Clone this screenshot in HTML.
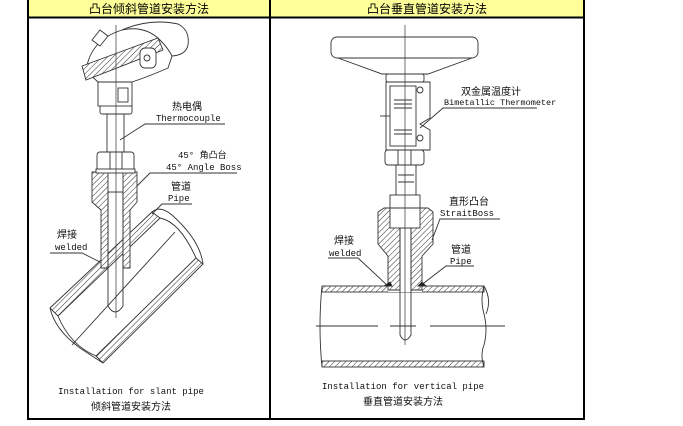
<!DOCTYPE html>
<html><head><meta charset="utf-8"><style>
html,body{margin:0;padding:0;background:#fff;width:683px;height:426px;overflow:hidden}
svg{display:block}
text{font-family:"Liberation Mono","Noto Sans CJK SC",monospace;font-size:9px;fill:#111}
.c{font-family:"Liberation Sans","Noto Sans CJK SC",sans-serif;font-size:10px}
.h{font-family:"Liberation Sans","Noto Sans CJK SC",sans-serif;font-size:12px;fill:#000}
</style></head><body>
<svg width="683" height="426" viewBox="0 0 683 426">
<defs>
<pattern id="hat" width="4" height="4" patternUnits="userSpaceOnUse" patternTransform="rotate(45)">
<rect width="4" height="4" fill="#fff"/><line x1="0" y1="0" x2="0" y2="4" stroke="#333" stroke-width="1"/>
</pattern>
</defs>
<!-- table -->
<rect x="28" y="0" width="556" height="17" fill="#ffff99"/>
<rect x="28" y="-1" width="556" height="420" fill="none" stroke="#000" stroke-width="2"/>
<line x1="28" y1="17.5" x2="584" y2="17.5" stroke="#000" stroke-width="2"/>
<line x1="270" y1="0" x2="270" y2="420" stroke="#000" stroke-width="2"/>
<text class="h" x="149" y="13" text-anchor="middle">凸台倾斜管道安装方法</text>
<text class="h" x="427" y="13" text-anchor="middle">凸台垂直管道安装方法</text>

<g stroke="#333" fill="none" stroke-width="0.9">
<!-- LEFT -->
<path d="M50,308 L152,212 L160,218 L58,316 Z" fill="url(#hat)"/>
<path d="M96,356 L196,258 L203,264 L103,363 Z" fill="url(#hat)"/>
<path d="M152,212 Q160,205 172,215 Q200,240 203,264" />
<path d="M160,218 Q180,222 196,258"/>
<path d="M50,308 Q55,330 80,348 Q95,358 103,363"/>
<path d="M58,316 Q70,345 96,356"/>
<line x1="72" y1="345" x2="175" y2="232"/>
<path d="M92,172 L137,172 L137,202 L130,210 L130,268 L123,268 L123,192 L108,192 L108,268 L101,268 L101,210 L92,202 Z" fill="url(#hat)"/>
<rect x="108" y="172" width="15" height="20" fill="#fff"/>
<path d="M108,192 L108,306 Q115,318 123,306 L123,192"/>
<rect x="97" y="152" width="37" height="19" rx="3" fill="#fff"/>
<line x1="110" y1="152" x2="110" y2="171"/><line x1="122" y1="152" x2="122" y2="171"/>
<rect x="96" y="169" width="39" height="4" fill="#fff"/>
<line x1="107" y1="113" x2="107" y2="152"/><line x1="124" y1="113" x2="124" y2="152"/>
<rect x="100" y="105" width="32" height="9" rx="2" fill="#fff"/>
<rect x="98" y="82" width="34" height="24" fill="#fff"/>
<rect x="118" y="88" width="10" height="14"/>
<path d="M86,71 Q90,40 122,30 Q145,25 160,40 Q168,48 172,56 L168,68 Q150,76 132,82 L98,82 Z" fill="#fff"/>
<path d="M82,66 L158,38 L163,50 L86,80 Z" fill="url(#hat)"/>
<path d="M122,30 Q150,18 178,24 Q190,30 188,45 Q186,55 172,56" />
<rect x="140" y="48" width="16" height="20" rx="5" fill="#fff"/>
<circle cx="147" cy="58" r="3"/>
<path d="M92,40 L100,30 L108,36 L100,46 Z" fill="#fff"/>
<line x1="116" y1="25" x2="116" y2="318" stroke-width="0.7"/>
<path d="M225,124 L145,124 L120,140"/>
<path d="M237,173 L150,173 L137,186"/>
<path d="M192,204 L162,204 L152,214"/>
<path d="M50,253 L82,253 L100,262"/>

<!-- RIGHT -->
<rect x="322" y="286" width="162" height="6" fill="url(#hat)"/>
<rect x="322" y="361" width="162" height="6" fill="url(#hat)"/>
<rect x="388" y="284" width="34" height="8" fill="#fff" stroke="none"/>
<path d="M322,286 Q318,326 322,367"/>
<path d="M484,286 Q480,300 484,314 Q488,330 484,345 Q480,355 484,367"/>
<path d="M484,286 Q492,300 486,314"/>
<line x1="316" y1="326" x2="378" y2="326"/><line x1="390" y1="326" x2="416" y2="326"/><line x1="430" y1="326" x2="505" y2="326"/>
<path d="M378,212 L384,208 L428,208 L433,212 L433,244 L422,256 L422,290 L411,290 L411,228 L400,228 L400,290 L388,290 L388,256 L378,244 Z" fill="url(#hat)"/>
<path d="M384,286 L390,282 L392,286 Z M418,286 L422,282 L426,286 Z" fill="#111"/>
<rect x="390" y="195" width="30" height="33" fill="#fff"/>
<line x1="390" y1="208" x2="420" y2="208"/>
<path d="M400,228 L400,335 Q405,345 411,335 L411,228"/>
<path d="M396,165 L396,195 M416,165 L416,195"/>
<path d="M398,175 L414,175 M398,182 L414,182"/>
<rect x="385" y="150" width="39" height="15" rx="3" fill="#fff"/>
<line x1="398" y1="150" x2="398" y2="165"/><line x1="411" y1="150" x2="411" y2="165"/>
<path d="M386,82 L430,82 L430,118 L420,124 L430,130 L430,150 L386,150 Z" fill="#fff"/>
<rect x="390" y="86" width="26" height="60"/>
<path d="M394,100 L412,100 M394,104 L412,104 M394,108 L412,108 M394,130 L412,130 M394,134 L412,134"/>
<circle cx="420" cy="90" r="3"/><circle cx="420" cy="138" r="3"/>
<line x1="380" y1="116" x2="390" y2="116"/>
<path d="M338,58 Q360,66 382,74 L428,74 Q450,66 472,58"/>
<rect x="386" y="74" width="38" height="8" rx="2" fill="#fff"/>
<rect x="331" y="37" width="147" height="21" rx="6" fill="#fff"/>
<line x1="405" y1="25" x2="405" y2="345" stroke-width="0.7"/>
<path d="M537,108 L443,108 L420,128"/>
<path d="M500,219 L440,219 L432,240"/>
<path d="M328,258 L358,258 L388,286"/>
<path d="M474,266 L446,266 L420,286"/>
</g>

<text class="c" x="172" y="110">热电偶</text>
<text x="156" y="121">Thermocouple</text>
<text x="178" y="158">45° 角凸台</text>
<text x="166" y="170">45° Angle Boss</text>
<text class="c" x="171" y="190">管道</text>
<text x="168" y="201">Pipe</text>
<text class="c" x="57" y="238">焊接</text>
<text x="55" y="250">welded</text>
<text x="131" y="394" text-anchor="middle">Installation for slant pipe</text>
<text class="c" x="131" y="410" text-anchor="middle">倾斜管道安装方法</text>
<text class="c" x="461" y="95">双金属温度计</text>
<text x="444" y="105" style="font-size:8.5px">Bimetallic Thermometer</text>
<text class="c" x="449" y="205">直形凸台</text>
<text x="440" y="216">StraitBoss</text>
<text class="c" x="334" y="244">焊接</text>
<text x="329" y="256">welded</text>
<text class="c" x="451" y="253">管道</text>
<text x="450" y="264">Pipe</text>
<text x="403" y="389" text-anchor="middle">Installation for vertical pipe</text>
<text class="c" x="403" y="405" text-anchor="middle">垂直管道安装方法</text>
</svg>
</body></html>
